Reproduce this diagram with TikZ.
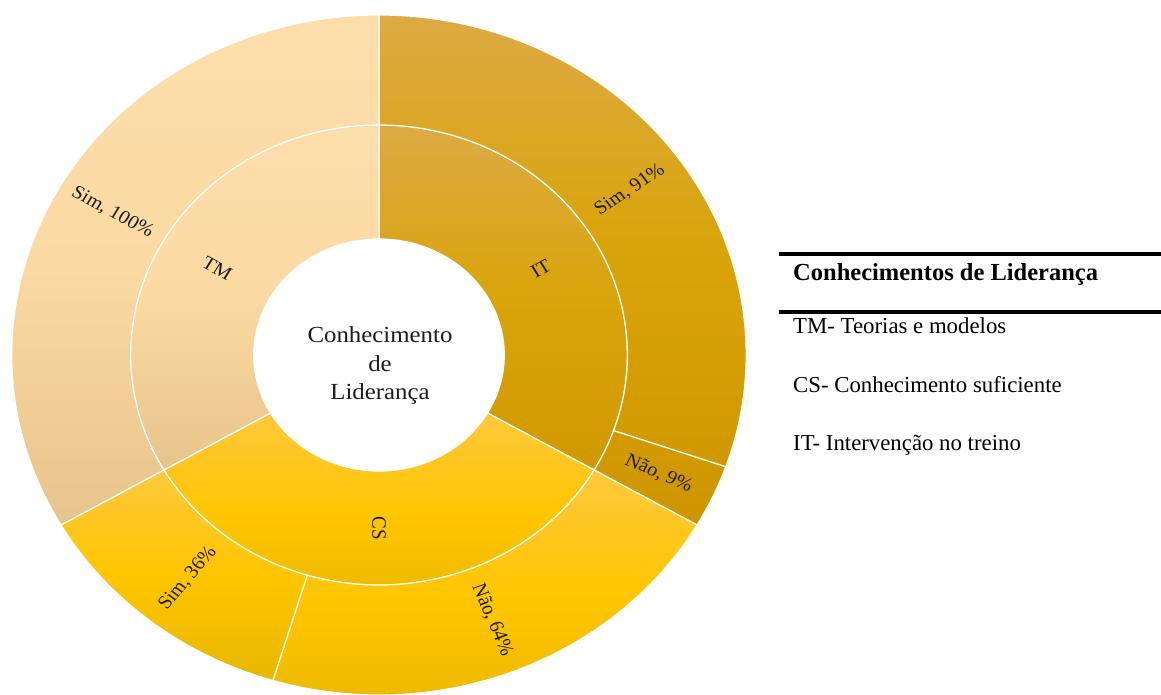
\documentclass[tikz,border=0pt]{standalone}
\usepackage{fontspec}
\setmainfont{Liberation Serif}
\definecolor{tmTop}{HTML}{FDDEAA}
\definecolor{tmMid}{HTML}{FBD9A2}
\definecolor{tmBot}{HTML}{E6C48B}
\definecolor{itTop}{HTML}{DDAA44}
\definecolor{itMid}{HTML}{D9A40A}
\definecolor{itBot}{HTML}{D19900}
\definecolor{naoTop}{HTML}{D49B00}
\definecolor{naoBot}{HTML}{CC9400}
\definecolor{csTop}{HTML}{FEC83C}
\definecolor{csMid}{HTML}{FFC600}
\definecolor{csBot}{HTML}{E8B700}
\definecolor{txt}{HTML}{1C1C1C}
\newcommand{\ringseg}[5]{\path[#1] (#2:#5) arc[start angle=#2, end angle=#3, radius=#5] -- (#3:#4) arc[start angle=#3, end angle=#2, radius=#4] -- cycle;}
\begin{document}
\begin{tikzpicture}[x=1pt,y=1pt,
  seg/.style={draw=white, line width=1.2pt},
  tmseg/.style={seg, top color=tmTop, bottom color=tmBot, middle color=tmMid},
  itseg/.style={seg, top color=itTop, bottom color=itBot, middle color=itMid},
  naoseg/.style={seg, top color=naoTop, bottom color=naoBot},
  csseg/.style={seg, top color=csTop, bottom color=csBot, middle color=csMid},
  lab/.style={font=\fontsize{19}{23}\selectfont, text=txt, transform shape, inner sep=0pt},
  ctext/.style={font=\fontsize{23}{28}\selectfont, text=txt, transform shape, inner sep=0pt, anchor=base},
  legtext/.style={font=\fontsize{22.8}{27}\selectfont, text=black, inner sep=0pt, anchor=base west},
  rule/.style={line width=4pt, black}]
\useasboundingbox (0,0) rectangle (1161,695);
\begin{scope}[shift={(379,340)}, xscale=1.08]
  % inner ring
  \ringseg{itseg}{90}{-30}{116}{230}
  \ringseg{csseg}{-30}{-150}{116}{230}
  \ringseg{tmseg}{210}{90}{116}{230}
  % outer ring
  \ringseg{itseg}{90}{-19.2}{230}{340}
  \ringseg{naoseg}{-19.2}{-30}{230}{340}
  \ringseg{csseg}{-30}{-106.8}{230}{340}
  \ringseg{csseg}{-106.8}{-150}{230}{340}
  \ringseg{tmseg}{210}{90}{230}{340}
  % labels
  \node[lab, rotate=30] (lIT) at (30:173) {IT};
  \node[lab, rotate=-90] (lCS) at (-90:173) {CS};
  \node[lab, rotate=-30] (lTM) at (150:173) {TM};
  \node[lab, rotate=35.4] (lITs) at (35.4:285) {Sim, 91\%};
  \node[lab, rotate=-24.6] (lITn) at (-24.6:285) {Não, 9\%};
  \node[lab, rotate=-68.4] (lCSn) at (-68.4:285) {Não, 64\%};
  \node[lab, rotate=51.6] (lCSs) at (-128.4:285) {Sim, 36\%};
  \node[lab, rotate=-30] (lTMs) at (150:285) {Sim, 100\%};
  % centre
  \node[ctext] (c1) at (0.9,12) {Conhecimento};
  \node[ctext] (c2) at (0.9,-17) {de};
  \node[ctext] (c3) at (0.9,-45) {Liderança};
\end{scope}
% legend
\coordinate (r1a) at (779,441);
\coordinate (r1b) at (1161,441);
\coordinate (r2a) at (779,383);
\coordinate (r2b) at (1161,383);
\draw[rule] (r1a) -- (r1b);
\draw[rule] (r2a) -- (r2b);
\node[legtext, font=\fontsize{24.5}{28}\selectfont\bfseries] (lh) at (793,414) {Conhecimentos de Liderança};
\node[legtext] (l1) at (793,361) {TM- Teorias e modelos};
\node[legtext] (l2) at (793,302) {CS- Conhecimento suficiente};
\node[legtext] (l3) at (793,244) {IT- Intervenção no treino};
\end{tikzpicture}
\end{document}
